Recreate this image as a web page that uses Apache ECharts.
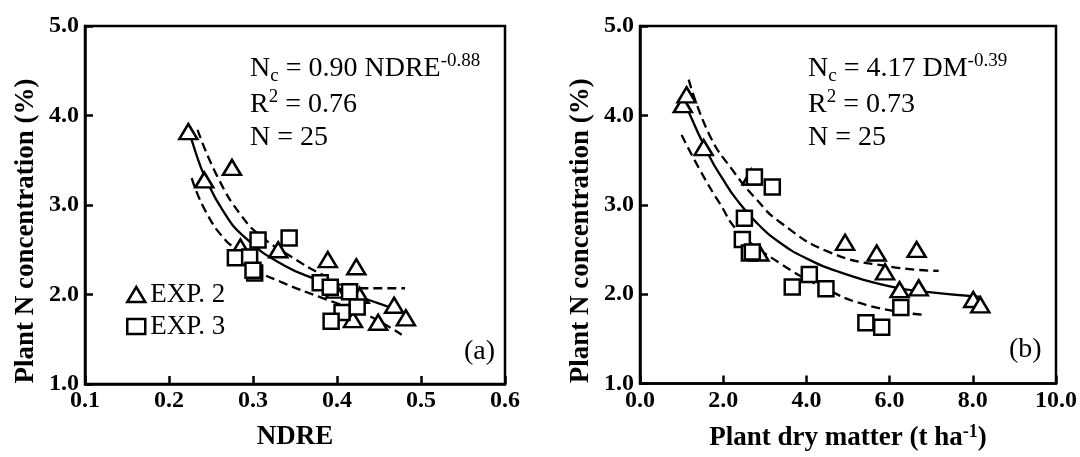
<!DOCTYPE html>
<html><head><meta charset="utf-8">
<script src="https://cdn.jsdelivr.net/npm/echarts@6/dist/echarts.min.js"></script>
<style>html,body{margin:0;padding:0;background:#fff}#c{width:1080px;height:457px}</style>
</head><body><div id="c"></div>
<script>
// Panel (a): NDRE vs plant N concentration
const ndreExp2 = [[0.223,3.82],[0.242,3.28],[0.275,3.42],[0.285,2.53],[0.330,2.50],[0.389,2.39],[0.423,2.31],[0.398,2.05],[0.427,1.99],[0.419,1.72],[0.449,1.69],[0.468,1.88],[0.482,1.74]];
const ndreExp3 = [[0.279,2.41],[0.296,2.42],[0.306,2.61],[0.343,2.63],[0.302,2.24],[0.300,2.27],[0.380,2.13],[0.392,2.08],[0.415,2.03],[0.424,1.86],[0.406,1.80],[0.393,1.70]];
const ndreFit = [[0.222,3.89],[0.232,3.58],[0.243,3.31],[0.264,2.94],[0.290,2.64],[0.336,2.33],[0.383,2.14],[0.420,2.00],[0.459,1.87],[0.471,1.84]];
const ndreUpper = [[0.234,3.84],[0.258,3.31],[0.287,2.87],[0.311,2.64],[0.346,2.42],[0.383,2.22],[0.424,2.07],[0.481,2.07]];
const ndreLower = [[0.227,3.30],[0.243,2.94],[0.267,2.61],[0.287,2.46],[0.300,2.30],[0.336,2.13],[0.383,1.96],[0.436,1.77],[0.477,1.55]];
// Panel (b): plant dry matter vs plant N concentration
const dmExp2 = [[1.03,4.12],[1.12,4.23],[1.53,3.64],[2.68,3.31],[2.87,2.46],[4.93,2.58],[5.69,2.46],[6.65,2.50],[5.89,2.25],[6.24,2.05],[6.70,2.07],[8.01,1.94],[8.18,1.88]];
const dmExp3 = [[2.75,3.31],[3.18,3.20],[2.51,2.85],[2.46,2.61],[2.63,2.46],[2.70,2.47],[3.66,2.08],[4.07,2.22],[4.47,2.06],[6.27,1.85],[5.43,1.68],[5.81,1.63]];
const dmFit = [[1.15,4.06],[1.67,3.54],[2.00,3.28],[2.32,3.06],[2.80,2.80],[3.35,2.58],[4.00,2.40],[4.78,2.25],[5.98,2.09],[6.77,2.03],[8.20,1.97]];
const dmUpper = [[1.17,4.40],[1.67,3.78],[2.22,3.39],[2.80,3.06],[3.35,2.81],[4.55,2.47],[5.98,2.31],[7.18,2.26]];
const dmLower = [[1.00,3.78],[1.44,3.39],[1.91,3.02],[2.39,2.69],[3.35,2.35],[4.38,2.08],[5.43,1.88],[6.77,1.77]];
const legendNames = ['EXP. 2','EXP. 3'];
const yTicks = {min:1, max:5, interval:1};

const SERIF = '"Liberation Serif","Times New Roman",serif';
const lblStyle = {fontFamily:SERIF, fontWeight:'bold', fontSize:24, color:'#000'};
const nameStyle = {fontFamily:SERIF, fontWeight:'bold', fontSize:27, color:'#000'};
const chart = echarts.init(document.getElementById('c'));

function xAxis(idx, min, max, interval, name, rich){
  return {gridIndex:idx, type:'value', min, max, interval,
    axisLine:{show:true, lineStyle:{color:'#000', width:2.5}},
    axisTick:{show:true, inside:true, length:8, lineStyle:{color:'#000', width:2.5}},
    axisLabel:Object.assign({margin:5, formatter:v=>v.toFixed(1)}, lblStyle),
    splitLine:{show:false},
    name, nameLocation:'middle', nameGap:40,
    nameTextStyle:Object.assign({rich:rich||{}}, nameStyle)};
}
function yAxis(idx){
  return {gridIndex:idx, type:'value', min:yTicks.min, max:yTicks.max, interval:yTicks.interval,
    axisLine:{show:true, lineStyle:{color:'#000', width:2.5}},
    axisTick:{show:true, inside:true, length:8, lineStyle:{color:'#000', width:2.5}},
    axisLabel:Object.assign({margin:6, formatter:v=>v.toFixed(1)}, lblStyle),
    splitLine:{show:false},
    name:'Plant N concentration (%)', nameLocation:'middle', nameGap:45,
    nameTextStyle:Object.assign({padding:[0,52,0,0]}, nameStyle)};
}
const mkStyle = {color:'#fff', borderColor:'#000', borderWidth:2.5, opacity:1};
function scatter(name, data, xi, sym){
  return {name, type:'scatter', xAxisIndex:xi, yAxisIndex:xi, data,
    symbol:sym, symbolSize: sym==='triangle'?[18,15]:15,
    itemStyle:mkStyle, z:5};
}
function line(data, xi, dashed){
  return {type:'line', xAxisIndex:xi, yAxisIndex:xi, data, smooth:true, symbol:'none',
    lineStyle:{color:'#000', width:2.3, type: dashed?[9,5]:'solid'}, z:3, silent:true};
}
const base = {fontFamily:SERIF, fontSize:28, color:'#000'};
const richAnn = {
  n:Object.assign({}, base, {lineHeight:34, verticalAlign:'middle'}),
  sub:Object.assign({}, base, {fontSize:19, lineHeight:34, verticalAlign:'bottom'}),
  sup:Object.assign({}, base, {fontSize:19, lineHeight:34, verticalAlign:'top'})
};
function ann(x, y, lines){
  return lines.map((t,i)=>({type:'text', left:x, top:y+i*36,
    style:{text:t, rich:richAnn, fill:'#000', font:'28px '+SERIF}}));
}

chart.setOption({
  animation:false,
  backgroundColor:'#fff',
  grid:[
    {left:85, top:26, width:420, height:358, show:true, borderColor:'#000', borderWidth:2.5},
    {left:640, top:26, width:418, height:358, show:true, borderColor:'#000', borderWidth:2.5}
  ],
  xAxis:[
    xAxis(0, 0.1, 0.6, 0.1, 'NDRE'),
    xAxis(1, 0, 10, 2, 'Plant dry matter (t ha{s|-1})', {s:Object.assign({}, nameStyle, {fontSize:18, verticalAlign:'top', lineHeight:30})})
  ],
  yAxis:[yAxis(0), yAxis(1)],
  legend:{orient:'vertical', left:121, top:276, itemGap:5, itemWidth:18, itemHeight:15,
    data:legendNames, textStyle:{fontFamily:SERIF, fontSize:27, color:'#000'}, itemStyle:mkStyle},
  series:[
    scatter(legendNames[0], ndreExp2, 0, 'triangle'),
    scatter(legendNames[1], ndreExp3, 0, 'rect'),
    line(ndreFit, 0, false), line(ndreUpper, 0, true), line(ndreLower, 0, true),
    scatter(legendNames[0], dmExp2, 1, 'triangle'),
    scatter(legendNames[1], dmExp3, 1, 'rect'),
    line(dmFit, 1, false), line(dmUpper, 1, true), line(dmLower, 1, true)
  ],
  graphic:[].concat(
    ann(250, 52, ['{n|N}{sub|c}{n| = 0.90 NDRE}{sup|-0.88}', '{n|R}{sup|2}{n| = 0.76}', '{n|N = 25}']),
    ann(808, 52, ['{n|N}{sub|c}{n| = 4.17 DM}{sup|-0.39}', '{n|R}{sup|2}{n| = 0.73}', '{n|N = 25}']),
    [{type:'text', left:464, top:338, style:{text:'(a)', font:'28px '+SERIF, fill:'#000'}},
     {type:'text', left:1009, top:336, style:{text:'(b)', font:'28px '+SERIF, fill:'#000'}}]
  )
});
</script></body></html>
